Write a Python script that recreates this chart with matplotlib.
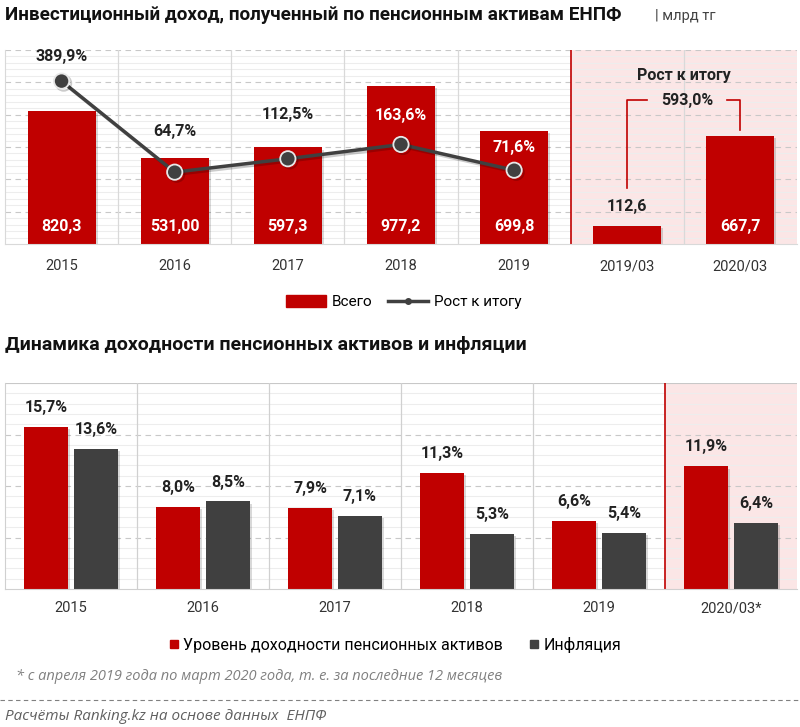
import matplotlib
matplotlib.use("Agg")
import matplotlib.pyplot as plt
import matplotlib.patheffects as pe
from matplotlib.lines import Line2D
from matplotlib.patches import Patch
import numpy as np

plt.rcParams['font.family'] = ['Roboto', 'DejaVu Sans']

# ---------------- data ----------------
top_categories = ["2015", "2016", "2017", "2018", "2019", "2019/03", "2020/03"]
top_values = [820.3, 531.0, 597.3, 977.2, 699.8, 112.6, 667.7]
top_value_labels = ["820,3", "531,00", "597,3", "977,2", "699,8", "112,6", "667,7"]
growth_values = [389.9, 64.7, 112.5, 163.6, 71.6]
growth_labels = ["389,9%", "64,7%", "112,5%", "163,6%", "71,6%"]
total_growth_label = "593,0%"

bottom_categories = ["2015", "2016", "2017", "2018", "2019", "2020/03*"]
pension_yield = [15.7, 8.0, 7.9, 11.3, 6.6, 11.9]
inflation = [13.6, 8.5, 7.1, 5.3, 5.4, 6.4]

RED = "#c00000"
DARK = "#404040"
PINK = "#fbe6e6"
GRID = "#c8c8c8"
MINOR = "#ededed"

W, H = 800, 727
fig = plt.figure(figsize=(W / 100, H / 100), dpi=100)

def fy(px):
    return 1 - px / H

shadow = [pe.SimplePatchShadow(offset=(1.5, -1.5), alpha=0.15, shadow_rgbFace="#000000"), pe.Normal()]

# ---------------- top chart ----------------
ax1 = fig.add_axes([5 / W, fy(244), 792 / W, (244 - 50) / H])
x1 = np.arange(len(top_categories))
ax1.set_xlim(-0.5, len(top_categories) - 0.5)
ax1.set_ylim(0, 1200)
ax1.axvspan(4.5, 6.5, color=PINK, zorder=0, lw=0)
for v in np.arange(40, 1200, 40):
    if v % 200:
        ax1.axhline(v, color=MINOR, lw=0.8, zorder=0.5)
for v in np.arange(200, 1201, 200):
    ax1.axhline(v, color=GRID, lw=0.8, ls=(0, (5, 4)), zorder=0.6)
for b in np.arange(0.5, 6.5, 1):
    if b == 4.5:
        ax1.axvline(b, color=RED, lw=1.2, zorder=0.7)
    else:
        ax1.axvline(b, color="#d9d9d9", lw=0.9, zorder=0.7)

bars = ax1.bar(x1, top_values, width=0.6, color=RED, zorder=2)
for b in bars:
    b.set_path_effects(shadow)

for i, (v, lab) in enumerate(zip(top_values, top_value_labels)):
    if v < 300:
        ax1.annotate(lab, (i, v), xytext=(0, 14), textcoords="offset points",
                     ha="center", va="center", fontsize=11.5, fontweight="bold", color="#222222", zorder=5)
    else:
        ax1.text(i, 110, lab, ha="center", va="center", fontsize=11.5,
                 fontweight="bold", color="white", zorder=5)

ax1.set_xticks(x1)
ax1.set_xticklabels(top_categories, fontsize=10.5, color="#333333")
ax1.tick_params(axis="x", length=0, pad=11)
ax1.set_yticks([])
for s in ["top", "right"]:
    ax1.spines[s].set_visible(False)
ax1.spines["left"].set_color("#d9d9d9")
ax1.spines["bottom"].set_color("#d9d9d9")

ax1b = ax1.twinx()
ax1b.set_ylim(-192, 501)
ax1b.set_yticks([])
for s in ax1b.spines.values():
    s.set_visible(False)
xg = np.arange(len(growth_values))
ax1b.plot(xg, growth_values, color=DARK, lw=2.5, marker="o", markersize=11,
          markerfacecolor=DARK, markeredgecolor="#e8e8e8", markeredgewidth=1.3, zorder=4,
          path_effects=[pe.SimpleLineShadow(offset=(1.5, -1.5), alpha=0.2), pe.Normal()])
label_offsets = [18, 29, 32, 21, 16]
for i, (v, lab) in enumerate(zip(growth_values, growth_labels)):
    col = "white" if top_values[i] > 600 and i >= 3 else "#222222"
    ax1b.annotate(lab, (i, v), xytext=(0, label_offsets[i]), textcoords="offset points",
                  ha="center", va="center", fontsize=11.5, fontweight="bold", color=col, zorder=6)

# bracket for total growth
yb = 890
ax1.plot([5, 5, 5.17], [top_values[5] + 235, yb, yb], color=RED, lw=1.2, zorder=3)
ax1.plot([5.88, 6, 6], [yb, yb, top_values[6] + 35], color=RED, lw=1.2, zorder=3)
ax1.text(5.53, yb, total_growth_label, ha="center", va="center", fontsize=11.5,
         fontweight="bold", color="#222222", zorder=5)
ax1.text(5.5, 1040, "Рост к итогу", ha="center", va="center", fontsize=11.5,
         fontweight="bold", color="#222222", zorder=5)

handles1 = [Patch(facecolor=RED, edgecolor=RED),
            Line2D([0], [0], color=DARK, lw=2.5, marker="o", markersize=4,
                   markerfacecolor=DARK, markeredgecolor=DARK)]
fig.legend(handles1, ["Всего", "Рост к итогу"], loc="center", bbox_to_anchor=(404 / W, fy(302)),
           ncol=2, frameon=False, fontsize=11, handlelength=2.6, handleheight=0.9,
           columnspacing=1.0, handletextpad=0.4)

fig.text(5 / W, fy(15), "Инвестиционный доход, полученный по пенсионным активам ЕНПФ",
         fontsize=13.6, fontweight="bold", color="#111111", ha="left", va="center")
fig.text(655 / W, fy(16), "| млрд тг", fontsize=10.5, color="#444444", ha="left", va="center")

# ---------------- bottom chart ----------------
fig.text(5 / W, fy(345), "Динамика доходности пенсионных активов и инфляции",
         fontsize=14, fontweight="bold", color="#111111", ha="left", va="center")

ax2 = fig.add_axes([5 / W, fy(589), 792 / W, (589 - 383) / H])
x2 = np.arange(len(bottom_categories))
ax2.set_xlim(-0.5, len(bottom_categories) - 0.5)
ax2.set_ylim(0, 20)
ax2.axvspan(4.5, 5.5, color=PINK, zorder=0, lw=0)
for v in np.arange(1, 20, 1):
    if v % 5:
        ax2.axhline(v, color=MINOR, lw=0.8, zorder=0.5)
for v in [5, 10, 15, 20]:
    ax2.axhline(v, color=GRID, lw=0.8, ls=(0, (5, 4)) if v < 20 else "-", zorder=0.6)
for b in np.arange(0.5, 5.5, 1):
    if b == 4.5:
        ax2.axvline(b, color=RED, lw=1.2, zorder=0.7)
    else:
        ax2.axvline(b, color="#d0d0d0", lw=0.9, zorder=0.7)

bw = 0.33
off = 0.188
b1 = ax2.bar(x2 - off, pension_yield, width=bw, color=RED, zorder=2)
b2 = ax2.bar(x2 + off, inflation, width=bw, color=DARK, zorder=2)
for b in list(b1) + list(b2):
    b.set_path_effects(shadow)
for i in range(len(x2)):
    ax2.annotate(f"{pension_yield[i]:.1f}%".replace(".", ","), (x2[i] - off, pension_yield[i]),
                 xytext=(0, 14), textcoords="offset points", ha="center", va="center",
                 fontsize=11.5, fontweight="bold", color="#222222", zorder=5)
    ax2.annotate(f"{inflation[i]:.1f}%".replace(".", ","), (x2[i] + off, inflation[i]),
                 xytext=(0, 14), textcoords="offset points", ha="center", va="center",
                 fontsize=11.5, fontweight="bold", color="#222222", zorder=5)

ax2.set_xticks(x2)
ax2.set_xticklabels(bottom_categories, fontsize=10.5, color="#333333")
ax2.tick_params(axis="x", length=0, pad=9)
ax2.set_yticks([])
for s in ["top", "right"]:
    ax2.spines[s].set_visible(False)
ax2.spines["left"].set_color("#d0d0d0")
ax2.spines["bottom"].set_color("#d0d0d0")

handles2 = [Line2D([0], [0], marker="s", color="none", markerfacecolor=RED, markeredgecolor=RED, markersize=6),
            Line2D([0], [0], marker="s", color="none", markerfacecolor=DARK, markeredgecolor=DARK, markersize=6)]
fig.legend(handles2, ["Уровень доходности пенсионных активов", "Инфляция"], loc="center",
           bbox_to_anchor=(395 / W, fy(645)), ncol=2, frameon=False, fontsize=11.5,
           handlelength=0.6, handletextpad=0.3, columnspacing=1.6)

fig.text(16 / W, fy(676), "* с апреля 2019 года по март 2020 года, т. е. за последние 12 месяцев",
         fontsize=10.5, style="italic", color="#808080", ha="left", va="center",
         family=["Open Sans", "DejaVu Sans"])
fig.add_artist(Line2D([0, 1], [fy(700), fy(700)], transform=fig.transFigure,
                      color="#808080", lw=0.8, ls=(0, (4, 3))))
fig.text(5 / W, fy(716), "Расчёты Ranking.kz на основе данных  ЕНПФ",
         fontsize=11, style="italic", color="#606060", ha="left", va="center",
         family=["Open Sans", "DejaVu Sans"])

fig.savefig("out.png", dpi=100, facecolor="white")
